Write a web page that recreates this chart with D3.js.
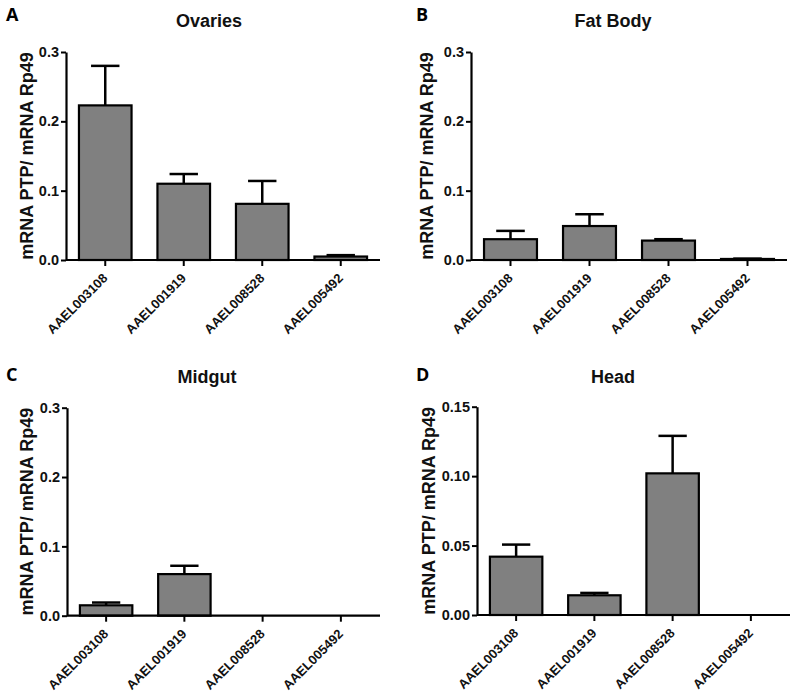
<!DOCTYPE html>
<html>
<head>
<meta charset="utf-8">
<script src="https://cdn.jsdelivr.net/npm/d3@7"></script>
<style>
  html, body { margin: 0; padding: 0; background: #fff; }
  svg { display: block; font-family: "Liberation Sans", Arial, sans-serif; }
</style>
</head>
<body>
<svg id="chart" width="797" height="698"></svg>
<script>
// ---- data ----
const categories = ["AAEL003108", "AAEL001919", "AAEL008528", "AAEL005492"];

const ovariesMean = [0.223, 0.110, 0.081, 0.005];
const ovariesSem  = [0.057, 0.014, 0.033, 0.002];

const fatBodyMean = [0.030, 0.049, 0.028, 0.0015];
const fatBodySem  = [0.012, 0.017, 0.002, 0.0005];

const midgutMean = [0.015, 0.060, 0, 0];
const midgutSem  = [0.004, 0.012, 0, 0];

const headMean = [0.042, 0.0142, 0.102, 0];
const headSem  = [0.0087, 0.0017, 0.027, 0];

const ticksMain = [0, 0.1, 0.2, 0.3];
const ticksHead = [0, 0.05, 0.10, 0.15];

const panelLetters = ["A", "B", "C", "D"];
const panelTitles = ["Ovaries", "Fat Body", "Midgut", "Head"];
const yLabel = "mRNA PTP/ mRNA Rp49";

// ---- layout ----
const panels = [
  { letter: panelLetters[0], title: panelTitles[0], mean: ovariesMean, sem: ovariesSem, ticks: ticksMain, fmt: ".1f",
    x0: 66, x1: 380, yBot: 260, yTop: 52, letterX: 6, letterY: 21, titleX: 209, titleY: 27, labX: 33 },
  { letter: panelLetters[1], title: panelTitles[1], mean: fatBodyMean, sem: fatBodySem, ticks: ticksMain, fmt: ".1f",
    x0: 471, x1: 787, yBot: 260, yTop: 52, letterX: 416, letterY: 21, titleX: 613, titleY: 27, labX: 433 },
  { letter: panelLetters[2], title: panelTitles[2], mean: midgutMean, sem: midgutSem, ticks: ticksMain, fmt: ".1f",
    x0: 67, x1: 380, yBot: 615.7, yTop: 407.7, letterX: 6, letterY: 381, titleX: 207, titleY: 383, labX: 33 },
  { letter: panelLetters[3], title: panelTitles[3], mean: headMean, sem: headSem, ticks: ticksHead, fmt: ".2f",
    x0: 477, x1: 790, yBot: 615, yTop: 406.7, letterX: 416, letterY: 381, titleX: 613, titleY: 383, labX: 435 }
];

const svg = d3.select("#chart");

panels.forEach(p => {
  const g = svg.append("g");
  const yMax = p.ticks[p.ticks.length - 1];
  const y = d3.scaleLinear().domain([0, yMax]).range([p.yBot, p.yTop]);
  const x = d3.scaleBand().domain(categories).range([p.x0, p.x1])
              .paddingInner(0.33).paddingOuter(0.165);

  // panel letter
  g.append("text").attr("x", p.letterX).attr("y", p.letterY)
    .attr("font-size", 18).attr("font-weight", "bold").attr("fill", "#000")
    .attr("font-family", "'Open Sans', 'Liberation Sans', Arial, sans-serif")
    .text(p.letter);

  // title
  g.append("text").attr("x", p.titleX).attr("y", p.titleY)
    .attr("text-anchor", "middle").attr("font-size", 18).attr("font-weight", "bold")
    .attr("fill", "#111").text(p.title);

  // y label
  g.append("text")
    .attr("transform", `translate(${p.labX},${(p.yTop + p.yBot) / 2}) rotate(-90)`)
    .attr("text-anchor", "middle").attr("font-size", 18).attr("font-weight", "bold")
    .attr("fill", "#111").text(yLabel);

  // bars
  g.selectAll("rect.bar").data(categories).enter().append("rect")
    .attr("class", "bar")
    .attr("x", d => x(d))
    .attr("width", x.bandwidth())
    .attr("y", (d, i) => y(p.mean[i]))
    .attr("height", (d, i) => p.yBot - y(p.mean[i]))
    .attr("fill", "#808080").attr("stroke", "#000").attr("stroke-width", 2.2)
    .style("display", (d, i) => p.mean[i] > 0 ? null : "none");

  // error bars
  const capW = x.bandwidth() * 0.54;
  categories.forEach((c, i) => {
    if (p.sem[i] <= 0) return;
    const cx = x(c) + x.bandwidth() / 2;
    g.append("line").attr("x1", cx).attr("x2", cx)
      .attr("y1", y(p.mean[i])).attr("y2", y(p.mean[i] + p.sem[i]))
      .attr("stroke", "#000").attr("stroke-width", 2.5);
    g.append("line").attr("x1", cx - capW / 2).attr("x2", cx + capW / 2)
      .attr("y1", y(p.mean[i] + p.sem[i])).attr("y2", y(p.mean[i] + p.sem[i]))
      .attr("stroke", "#000").attr("stroke-width", 2.5);
  });

  // y axis
  const yAxis = d3.axisLeft(y).tickValues(p.ticks).tickFormat(d3.format(p.fmt))
    .tickSize(5).tickSizeOuter(0).tickPadding(2);
  const ya = g.append("g").attr("transform", `translate(${p.x0},0)`).call(yAxis);
  ya.select(".domain").attr("stroke-width", 2.2);
  ya.selectAll(".tick line").attr("stroke-width", 2);
  ya.selectAll(".tick text").attr("font-size", 14.5).attr("font-weight", "bold")
    .attr("font-family", "'Liberation Sans', Arial, sans-serif").attr("fill", "#111");

  // x axis
  const xAxis = d3.axisBottom(x).tickSize(6).tickSizeOuter(0).tickPadding(3);
  const xa = g.append("g").attr("transform", `translate(0,${p.yBot})`).call(xAxis);
  xa.select(".domain").attr("stroke-width", 2.2).attr("d", `M${p.x0},0H${p.x1}`);
  xa.selectAll(".tick line").attr("stroke-width", 2);
  xa.selectAll(".tick text")
    .attr("font-size", 13).attr("font-weight", "bold").attr("fill", "#111")
    .attr("font-family", "'Liberation Sans', Arial, sans-serif")
    .attr("text-anchor", "end")
    .attr("dy", null).attr("y", null)
    .attr("transform", "translate(3,19) rotate(-45)");
});
</script>
</body>
</html>
